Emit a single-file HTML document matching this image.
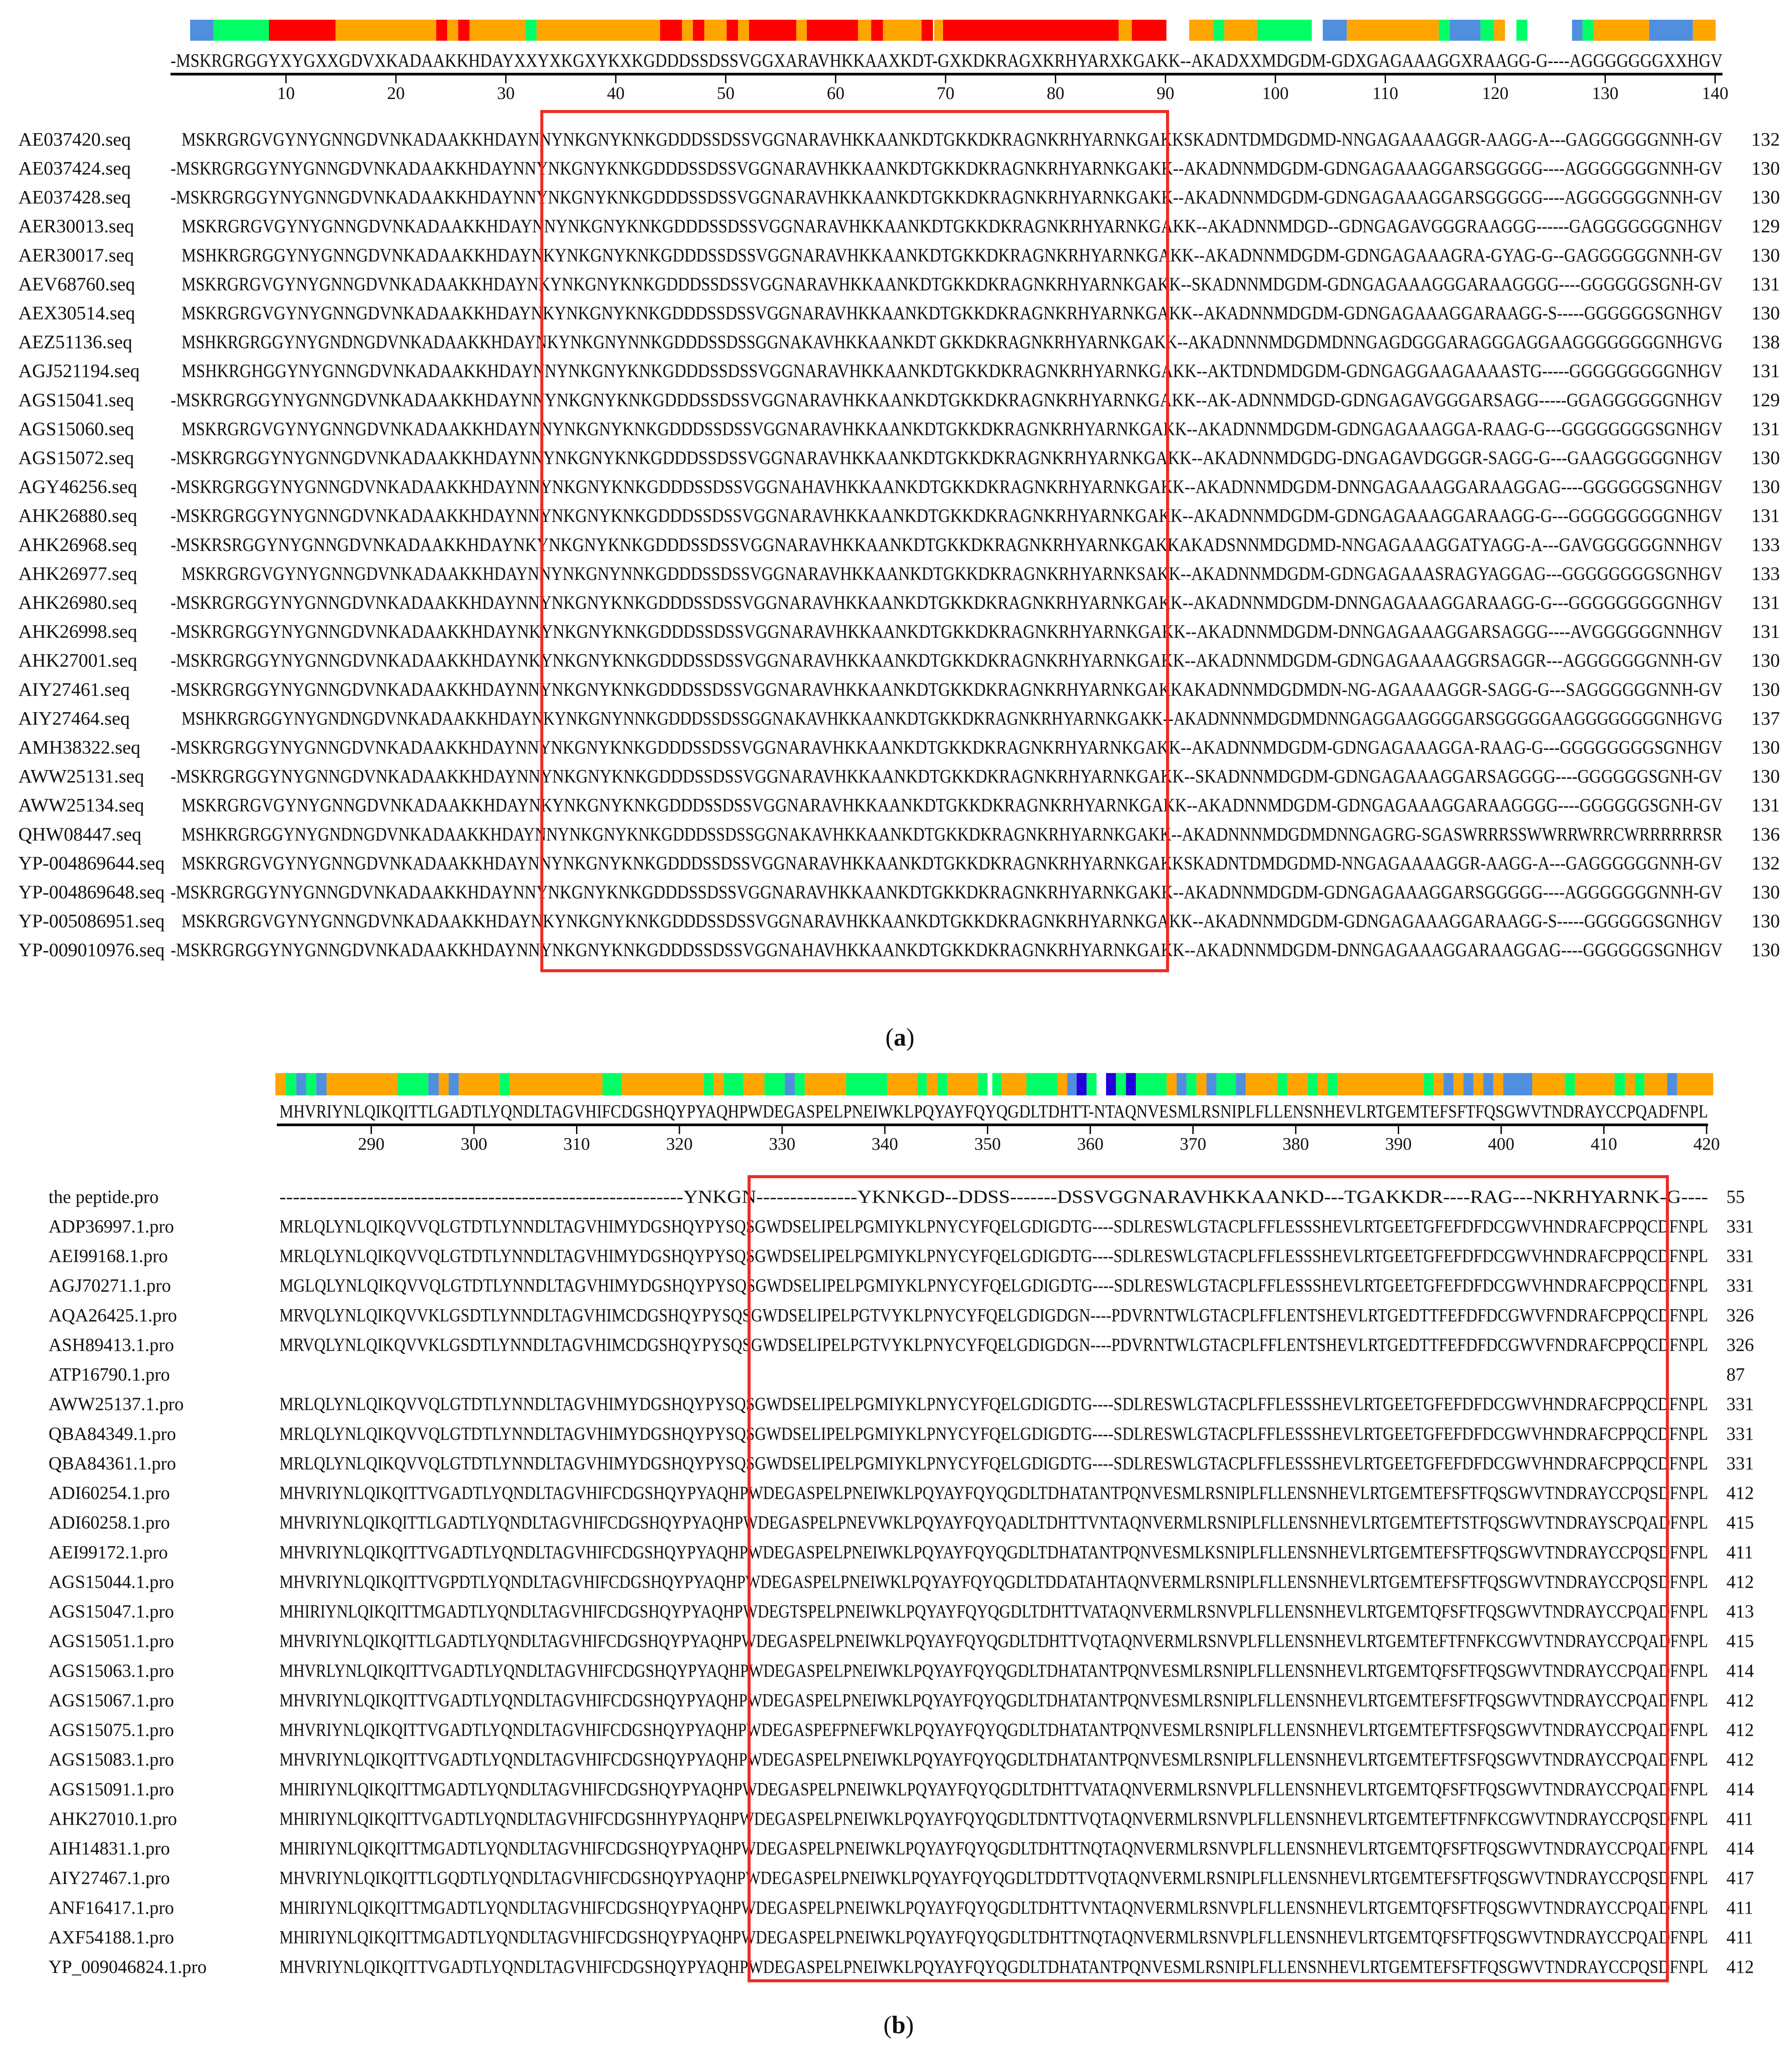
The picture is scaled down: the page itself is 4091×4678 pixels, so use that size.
<!DOCTYPE html>
<html><head><meta charset="utf-8">
<style>
html,body{margin:0;padding:0;background:#fff;}
svg{display:block;}
text{font-family:"Liberation Serif",serif;fill:#111;}
</style></head>
<body>
<svg id="fig" xmlns="http://www.w3.org/2000/svg" width="4091" height="4678" viewBox="0 0 1366 1562">
<rect x="0" y="0" width="1366" height="1562" fill="#fff"/>
<g id="barsA" transform="scale(0.33388)"></g>
<g id="barsB" transform="scale(0.33388)"></g>
<g id="panelA"></g>
<g id="panelB"></g>
<text x="686" y="797" font-size="19" text-anchor="middle">(<tspan font-weight="bold">a</tspan>)</text>
<text x="685" y="1550" font-size="19" text-anchor="middle">(<tspan font-weight="bold">b</tspan>)</text>
</svg>
<script>
const NS='http://www.w3.org/2000/svg';
const COL={b:'#4f8fde',g:'#00ff66',r:'#ff0000',o:'#ffa500',d:'#2200dd'};
// conservation segments (start,end,color) in full-res px
const segA=[[434,487,'b'],[487,614,'g'],[614,766,'r'],[766,996,'o'],[996,1021,'r'],[1021,1046,'o'],[1046,1072,'r'],[1072,1200,'o'],[1200,1225,'g'],[1225,1507,'o'],[1507,1557,'r'],[1557,1582,'o'],[1582,1608,'r'],[1608,1659,'o'],[1659,1685,'r'],[1685,1710,'o'],[1710,1818,'r'],[1818,1842,'o'],[1842,1959,'r'],[1959,1989,'o'],[1989,2016,'r'],[2016,2104,'o'],[2104,2130,'r'],[2133,2153,'o'],[2153,2554,'r'],[2554,2584,'o'],[2584,2663,'r'],[2715,2770,'o'],[2770,2795,'g'],[2795,2870,'o'],[2870,2995,'g'],[3020,3075,'b'],[3075,3285,'o'],[3285,3310,'g'],[3310,3380,'b'],[3380,3411,'g'],[3411,3436,'o'],[3462,3487,'g'],[3589,3613,'b'],[3613,3638,'g'],[3638,3765,'o'],[3765,3865,'b'],[3865,3917,'o']];
const segB4=[[8,30,'o'],[30,52,'g'],[52,73,'b'],[73,94,'g'],[94,116,'b'],[116,265,'o'],[265,330,'g'],[330,352,'b'],[352,373,'o'],[373,394,'b'],[394,480,'o'],[480,502,'g'],[502,697,'o'],[697,738,'g'],[738,910,'o'],[910,930,'g'],[930,952,'o'],[952,994,'g'],[994,1038,'o'],[1038,1081,'g'],[1081,1102,'b'],[1102,1123,'g'],[1123,1210,'o'],[1210,1297,'g'],[1297,1360,'o'],[1360,1380,'g'],[1380,1402,'o'],[1402,1423,'g'],[1423,1488,'o'],[1488,1508,'g'],[1518,1538,'g'],[1538,1568,'o']];
const segB5=[[0,42,'o'],[42,110,'g'],[110,132,'o'],[132,153,'b'],[153,175,'d'],[175,197,'g'],[218,240,'d'],[240,262,'g'],[262,284,'d'],[284,352,'g'],[352,374,'o'],[374,396,'b'],[396,418,'g'],[418,440,'o'],[440,462,'b'],[462,505,'g'],[505,527,'b'],[527,597,'o'],[597,619,'g'],[619,664,'o'],[664,686,'g'],[686,707,'o'],[707,729,'g'],[729,920,'o'],[920,942,'g'],[942,964,'o'],[964,986,'b'],[986,1008,'o'],[1008,1030,'b'],[1030,1052,'o'],[1052,1074,'b'],[1074,1096,'o'],[1096,1160,'b'],[1160,1232,'o'],[1232,1254,'g'],[1254,1342,'o'],[1342,1365,'g'],[1365,1387,'o'],[1387,1408,'g'],[1408,1458,'o'],[1458,1480,'b'],[1480,1560,'o']];

const consA="-MSKRGRGGYXYGXXGDVXKADAAKKHDAYXXYXKGXYKXKGDDDSSDSSVGGXARAVHKKAAXKDT-GXKDKRAGXKRHYARXKGAKK--AKADXXMDGDM-GDXGAGAAAGGXRAAGG-G----AGGGGGGGXXHGV";
const consB="MHVRIYNLQIKQITTLGADTLYQNDLTAGVHIFCDGSHQYPYAQHPWDEGASPELPNEIWKLPQYAYFQYQGDLTDHTT-NTAQNVESMLRSNIPLFLLENSNHEVLRTGEMTEFSFTFQSGWVTNDRAYCCPQADFNPL";
const ticksA=[10,20,30,40,50,60,70,80,90,100,110,120,130,140];
const ticksB=[290,300,310,320,330,340,350,360,370,380,390,400,410,420];

const namesA=["AE037420.seq","AE037424.seq","AE037428.seq","AER30013.seq","AER30017.seq","AEV68760.seq","AEX30514.seq","AEZ51136.seq","AGJ521194.seq","AGS15041.seq","AGS15060.seq","AGS15072.seq","AGY46256.seq","AHK26880.seq","AHK26968.seq","AHK26977.seq","AHK26980.seq","AHK26998.seq","AHK27001.seq","AIY27461.seq","AIY27464.seq","AMH38322.seq","AWW25131.seq","AWW25134.seq","QHW08447.seq","YP-004869644.seq","YP-004869648.seq","YP-005086951.seq","YP-009010976.seq"];
const lensA=[132,130,130,129,130,131,130,138,131,129,131,130,130,131,133,133,131,131,130,130,137,130,130,131,136,132,130,130,130];
const seqsA=[
"MSKRGRGVGYNYGNNGDVNKADAAKKHDAYNNYNKGNYKNKGDDDSSDSSVGGNARAVHKKAANKDTGKKDKRAGNKRHYARNKGAKKSKADNTDMDGDMD-NNGAGAAAAGGR-AAGG-A---GAGGGGGGNNH-GV",
"-MSKRGRGGYNYGNNGDVNKADAAKKHDAYNNYNKGNYKNKGDDDSSDSSVGGNARAVHKKAANKDTGKKDKRAGNKRHYARNKGAKK--AKADNNMDGDM-GDNGAGAAAGGARSGGGGG----AGGGGGGGNNH-GV",
"-MSKRGRGGYNYGNNGDVNKADAAKKHDAYNNYNKGNYKNKGDDDSSDSSVGGNARAVHKKAANKDTGKKDKRAGNKRHYARNKGAKK--AKADNNMDGDM-GDNGAGAAAGGARSGGGGG----AGGGGGGGNNH-GV",
"MSKRGRGVGYNYGNNGDVNKADAAKKHDAYNNYNKGNYKNKGDDDSSDSSVGGNARAVHKKAANKDTGKKDKRAGNKRHYARNKGAKK--AKADNNMDGD--GDNGAGAVGGGRAAGGG------GAGGGGGGGNHGV",
"MSHKRGRGGYNYGNNGDVNKADAAKKHDAYNKYNKGNYKNKGDDDSSDSSVGGNARAVHKKAANKDTGKKDKRAGNKRHYARNKGAKK--AKADNNMDGDM-GDNGAGAAAGRA-GYAG-G--GAGGGGGGNNH-GV",
"MSKRGRGVGYNYGNNGDVNKADAAKKHDAYNKYNKGNYKNKGDDDSSDSSVGGNARAVHKKAANKDTGKKDKRAGNKRHYARNKGAKK--SKADNNMDGDM-GDNGAGAAAGGGARAAGGGG----GGGGGGSGNH-GV",
"MSKRGRGVGYNYGNNGDVNKADAAKKHDAYNKYNKGNYKNKGDDDSSDSSVGGNARAVHKKAANKDTGKKDKRAGNKRHYARNKGAKK--AKADNNMDGDM-GDNGAGAAAGGARAAGG-S-----GGGGGGSGNHGV",
"MSHKRGRGGYNYGNDNGDVNKADAAKKHDAYNKYNKGNYNNKGDDDSSDSSGGNAKAVHKKAANKDT GKKDKRAGNKRHYARNKGAKK--AKADNNNMDGDMDNNGAGDGGGARAGGGAGGAAGGGGGGGGNHGVG",
"MSHKRGHGGYNYGNNGDVNKADAAKKHDAYNNYNKGNYKNKGDDDSSDSSVGGNARAVHKKAANKDTGKKDKRAGNKRHYARNKGAKK--AKTDNDMDGDM-GDNGAGGAAGAAAASTG-----GGGGGGGGGNHGV",
"-MSKRGRGGYNYGNNGDVNKADAAKKHDAYNNYNKGNYKNKGDDDSSDSSVGGNARAVHKKAANKDTGKKDKRAGNKRHYARNKGAKK--AK-ADNNMDGD-GDNGAGAVGGGARSAGG-----GGAGGGGGGNHGV",
"MSKRGRGVGYNYGNNGDVNKADAAKKHDAYNNYNKGNYKNKGDDDSSDSSVGGNARAVHKKAANKDTGKKDKRAGNKRHYARNKGAKK--AKADNNMDGDM-GDNGAGAAAGGA-RAAG-G---GGGGGGGGSGNHGV",
"-MSKRGRGGYNYGNNGDVNKADAAKKHDAYNNYNKGNYKNKGDDDSSDSSVGGNARAVHKKAANKDTGKKDKRAGNKRHYARNKGAKK--AKADNNMDGDG-DNGAGAVDGGGR-SAGG-G---GAAGGGGGGNHGV",
"-MSKRGRGGYNYGNNGDVNKADAAKKHDAYNNYNKGNYKNKGDDDSSDSSVGGNAHAVHKKAANKDTGKKDKRAGNKRHYARNKGAKK--AKADNNMDGDM-DNNGAGAAAGGARAAGGAG----GGGGGGSGNHGV",
"-MSKRGRGGYNYGNNGDVNKADAAKKHDAYNNYNKGNYKNKGDDDSSDSSVGGNARAVHKKAANKDTGKKDKRAGNKRHYARNKGAKK--AKADNNMDGDM-GDNGAGAAAGGARAAGG-G---GGGGGGGGGNHGV",
"-MSKRSRGGYNYGNNGDVNKADAAKKHDAYNKYNKGNYKNKGDDDSSDSSVGGNARAVHKKAANKDTGKKDKRAGNKRHYARNKGAKKAKADSNNMDGDMD-NNGAGAAAGGATYAGG-A---GAVGGGGGGNNHGV",
"MSKRGRGVGYNYGNNGDVNKADAAKKHDAYNNYNKGNYNNKGDDDSSDSSVGGNARAVHKKAANKDTGKKDKRAGNKRHYARNKSAKK--AKADNNMDGDM-GDNGAGAAASRAGYAGGAG---GGGGGGGGSGNHGV",
"-MSKRGRGGYNYGNNGDVNKADAAKKHDAYNNYNKGNYKNKGDDDSSDSSVGGNARAVHKKAANKDTGKKDKRAGNKRHYARNKGAKK--AKADNNMDGDM-DNNGAGAAAGGARAAGG-G---GGGGGGGGGNHGV",
"-MSKRGRGGYNYGNNGDVNKADAAKKHDAYNKYNKGNYKNKGDDDSSDSSVGGNARAVHKKAANKDTGKKDKRAGNKRHYARNKGAKK--AKADNNMDGDM-DNNGAGAAAGGARSAGGG----AVGGGGGGNNHGV",
"-MSKRGRGGYNYGNNGDVNKADAAKKHDAYNKYNKGNYKNKGDDDSSDSSVGGNARAVHKKAANKDTGKKDKRAGNKRHYARNKGAKK--AKADNNMDGDM-GDNGAGAAAAGGRSAGGR---AGGGGGGGNNH-GV",
"-MSKRGRGGYNYGNNGDVNKADAAKKHDAYNNYNKGNYKNKGDDDSSDSSVGGNARAVHKKAANKDTGKKDKRAGNKRHYARNKGAKKAKADNNMDGDMDN-NG-AGAAAAGGR-SAGG-G---SAGGGGGGNNH-GV",
"MSHKRGRGGYNYGNDNGDVNKADAAKKHDAYNKYNKGNYNNKGDDDSSDSSGGNAKAVHKKAANKDTGKKDKRAGNKRHYARNKGAKK--AKADNNNMDGDMDNNGAGGAAGGGGARSGGGGGAAGGGGGGGGNHGVG",
"-MSKRGRGGYNYGNNGDVNKADAAKKHDAYNNYNKGNYKNKGDDDSSDSSVGGNARAVHKKAANKDTGKKDKRAGNKRHYARNKGAKK--AKADNNMDGDM-GDNGAGAAAGGA-RAAG-G---GGGGGGGGSGNHGV",
"-MSKRGRGGYNYGNNGDVNKADAAKKHDAYNNYNKGNYKNKGDDDSSDSSVGGNARAVHKKAANKDTGKKDKRAGNKRHYARNKGAKK--SKADNNMDGDM-GDNGAGAAAGGARSAGGGG----GGGGGGSGNH-GV",
"MSKRGRGVGYNYGNNGDVNKADAAKKHDAYNKYNKGNYKNKGDDDSSDSSVGGNARAVHKKAANKDTGKKDKRAGNKRHYARNKGAKK--AKADNNMDGDM-GDNGAGAAAGGARAAGGGG----GGGGGGSGNH-GV",
"MSHKRGRGGYNYGNDNGDVNKADAAKKHDAYNNYNKGNYKNKGDDDSSDSSGGNAKAVHKKAANKDTGKKDKRAGNKRHYARNKGAKK--AKADNNNMDGDMDNNGAGRG-SGASWRRRSSWWRRWRRCWRRRRRRSR",
"MSKRGRGVGYNYGNNGDVNKADAAKKHDAYNNYNKGNYKNKGDDDSSDSSVGGNARAVHKKAANKDTGKKDKRAGNKRHYARNKGAKKSKADNTDMDGDMD-NNGAGAAAAGGR-AAGG-A---GAGGGGGGNNH-GV",
"-MSKRGRGGYNYGNNGDVNKADAAKKHDAYNNYNKGNYKNKGDDDSSDSSVGGNARAVHKKAANKDTGKKDKRAGNKRHYARNKGAKK--AKADNNMDGDM-GDNGAGAAAGGARSGGGGG----AGGGGGGGNNH-GV",
"MSKRGRGVGYNYGNNGDVNKADAAKKHDAYNKYNKGNYKNKGDDDSSDSSVGGNARAVHKKAANKDTGKKDKRAGNKRHYARNKGAKK--AKADNNMDGDM-GDNGAGAAAGGARAAGG-S-----GGGGGGSGNHGV",
"-MSKRGRGGYNYGNNGDVNKADAAKKHDAYNNYNKGNYKNKGDDDSSDSSVGGNAHAVHKKAANKDTGKKDKRAGNKRHYARNKGAKK--AKADNNMDGDM-DNNGAGAAAGGARAAGGAG----GGGGGGSGNHGV"];

const ADP="MRLQLYNLQIKQVVQLGTDTLYNNDLTAGVHIMYDGSHQYPYSQSGWDSELIPELPGMIYKLPNYCYFQELGDIGDTG----SDLRESWLGTACPLFFLESSSHEVLRTGEETGFEFDFDCGWVHNDRAFCPPQCDFNPL";
const AQA="MRVQLYNLQIKQVVKLGSDTLYNNDLTAGVHIMCDGSHQYPYSQSGWDSELIPELPGTVYKLPNYCYFQELGDIGDGN----PDVRNTWLGTACPLFFLENTSHEVLRTGEDTTFEFDFDCGWVFNDRAFCPPQCDFNPL";
const namesB=["the peptide.pro","ADP36997.1.pro","AEI99168.1.pro","AGJ70271.1.pro","AQA26425.1.pro","ASH89413.1.pro","ATP16790.1.pro","AWW25137.1.pro","QBA84349.1.pro","QBA84361.1.pro","ADI60254.1.pro","ADI60258.1.pro","AEI99172.1.pro","AGS15044.1.pro","AGS15047.1.pro","AGS15051.1.pro","AGS15063.1.pro","AGS15067.1.pro","AGS15075.1.pro","AGS15083.1.pro","AGS15091.1.pro","AHK27010.1.pro","AIH14831.1.pro","AIY27467.1.pro","ANF16417.1.pro","AXF54188.1.pro","YP_009046824.1.pro"];
const lensB=[55,331,331,331,326,326,87,331,331,331,412,415,411,412,413,415,414,412,412,412,414,411,414,417,411,411,412];
const seqsB=[
"------------------------------------------------------------YNKGN---------------YKNKGD--DDSS-------DSSVGGNARAVHKKAANKD---TGAKKDR----RAG---NKRHYARNK-G----",
ADP,ADP,
"MGLQLYNLQIKQVVQLGTDTLYNNDLTAGVHIMYDGSHQYPYSQSGWDSELIPELPGMIYKLPNYCYFQELGDIGDTG----SDLRESWLGTACPLFFLESSSHEVLRTGEETGFEFDFDCGWVHNDRAFCPPQCDFNPL",
AQA,AQA,"",ADP,ADP,ADP,
"MHVRIYNLQIKQITTVGADTLYQNDLTAGVHIFCDGSHQYPYAQHPWDEGASPELPNEIWKLPQYAYFQYQGDLTDHATANTPQNVESMLRSNIPLFLLENSNHEVLRTGEMTEFSFTFQSGWVTNDRAYCCPQSDFNPL",
"MHVRIYNLQIKQITTLGADTLYQNDLTAGVHIFCDGSHQYPYAQHPWDEGASPELPNEVWKLPQYAYFQYQADLTDHTTVNTAQNVERMLRSNIPLFLLENSNHEVLRTGEMTEFTSTFQSGWVTNDRAYSCPQADFNPL",
"MHVRIYNLQIKQITTVGADTLYQNDLTAGVHIFCDGSHQYPYAQHPWDEGASPELPNEIWKLPQYAYFQYQGDLTDHATANTPQNVESMLKSNIPLFLLENSNHEVLRTGEMTEFSFTFQSGWVTNDRAYCCPQSDFNPL",
"MHVRIYNLQIKQITTVGPDTLYQNDLTAGVHIFCDGSHQYPYAQHPWDEGASPELPNEIWKLPQYAYFQYQGDLTDDATAHTAQNVERMLRSNIPLFLLENSNHEVLRTGEMTEFSFTFQSGWVTNDRAYCCPQSDFNPL",
"MHIRIYNLQIKQITTMGADTLYQNDLTAGVHIFCDGSHQYPYAQHPWDEGTSPELPNEIWKLPQYAYFQYQGDLTDHTTVATAQNVERMLRSNVPLFLLENSNHEVLRTGEMTQFSFTFQSGWVTNDRAYCCPQADFNPL",
"MHVRIYNLQIKQITTLGADTLYQNDLTAGVHIFCDGSHQYPYAQHPWDEGASPELPNEIWKLPQYAYFQYQGDLTDHTTVQTAQNVERMLRSNVPLFLLENSNHEVLRTGEMTEFTFNFKCGWVTNDRAYCCPQADFNPL",
"MHVRLYNLQIKQITTVGADTLYQNDLTAGVHIFCDGSHQYPYAQHPWDEGASPELPNEIWKLPQYAYFQYQGDLTDHATANTPQNVESMLRSNIPLFLLENSNHEVLRTGEMTQFSFTFQSGWVTNDRAYCCPQADFNPL",
"MHVRIYNLQIKQITTVGADTLYQNDLTAGVHIFCDGSHQYPYAQHPWDEGASPELPNEIWKLPQYAYFQYQGDLTDHATANTPQNVESMLRSNIPLFLLENSNHEVLRTGEMTEFSFTFQSGWVTNDRAYCCPQADFNPL",
"MHVRIYNLQIKQITTVGADTLYQNDLTAGVHIFCDGSHQYPYAQHPWDEGASPEFPNEFWKLPQYAYFQYQGDLTDHATANTPQNVESMLRSNIPLFLLENSNHEVLRTGEMTEFTFSFQSGWVTNDRAYCCPQADFNPL",
"MHVRIYNLQIKQITTVGADTLYQNDLTAGVHIFCDGSHQYPYAQHPWDEGASPELPNEIWKLPQYAYFQYQGDLTDHATANTPQNVESMLRSNIPLFLLENSNHEVLRTGEMTEFTFSFQSGWVTNDRAYCCPQADFNPL",
"MHIRIYNLQIKQITTMGADTLYQNDLTAGVHIFCDGSHQYPYAQHPWDEGASPELPNEIWKLPQYAYFQYQGDLTDHTTVATAQNVERMLRSNVPLFLLENSNHEVLRTGEMTQFSFTFQSGWVTNDRAYCCPQADFNPL",
"MHIRIYNLQIKQITTVGADTLYQNDLTAGVHIFCDGSHHYPYAQHPWDEGASPELPNEIWKLPQYAYFQYQGDLTDNTTVQTAQNVERMLRSNVPLFLLENSNHEVLRTGEMTEFTFNFKCGWVTNDRAYCCPQSDFNPL",
"MHIRIYNLQIKQITTMGADTLYQNDLTAGVHIFCDGSHQYPYAQHPWDEGASPELPNEIWKLPQYAYFQYQGDLTDHTTNQTAQNVERMLRSNVPLFLLENSNHEVLRTGEMTQFSFTFQSGWVTNDRAYCCPQADFNPL",
"MHVRIYNLQIKQITTLGQDTLYQNDLTAGVHIFCDGSHQYPYAQHPWDEGASPELPNEIWKLPQYAYFQYQGDLTDDTTVQTAQNVERMLRSNIPLFLLENSNHEVLRTGEMTEFSFTFQSGWVTNDRAYCCPQSDFNPL",
"MHIRIYNLQIKQITTMGADTLYQNDLTAGVHIFCDGSHQYPYAQHPWDEGASPELPNEIWKLPQYAYFQYQGDLTDHTTVNTAQNVERMLRSNVPLFLLENSNHEVLRTGEMTQFSFTFQSGWVTNDRAYCCPQADFNPL",
"MHIRIYNLQIKQITTMGADTLYQNDLTAGVHIFCDGSHQYPYAQHPWDEGASPELPNEIWKLPQYAYFQYQGDLTDHTTNQTAQNVERMLRSNVPLFLLENSNHEVLRTGEMTQFSFTFQSGWVTNDRAYCCPQADFNPL",
"MHVRIYNLQIKQITTVGADTLYQNDLTAGVHIFCDGSHQYPYAQHPWDEGASPELPNEIWKLPQYAYFQYQGDLTDHATANTPQNVESMLRSNIPLFLLENSNHEVLRTGEMTEFSFTFQSGWVTNDRAYCCPQSDFNPL"];

function el(tag,parent){const e=document.createElementNS(NS,tag);parent.appendChild(e);return e;}

const gA=document.getElementById('barsA');
segA.forEach(s=>{
  const r=el('rect',gA);
  
  
  r.setAttribute('x',s[0]);r.setAttribute('y',45);r.setAttribute('width',s[1]-s[0]);r.setAttribute('height',48);r.setAttribute('fill',COL[s[2]]);
});
const gB=document.getElementById('barsB');
function addB(list,off,fac){
  list.forEach(s=>{
    const r=el('rect',gB);
    
    
    const x0=off+s[0]*fac,x1=off+s[1]*fac;
    r.setAttribute('x',x0);r.setAttribute('y',2450);r.setAttribute('width',x1-x0);r.setAttribute('height',51);r.setAttribute('fill',COL[s[2]]);
  });
}
addB(segB4,620,1.084);
addB(segB5,2300,1.033);

function txt(parent,x,y,s,size,opts){
  const t=el('text',parent);
  t.setAttribute('x',x);t.setAttribute('y',y);t.setAttribute('font-size',size);
  if(opts&&opts.len){t.setAttribute('textLength',opts.len);t.setAttribute('lengthAdjust','spacingAndGlyphs');}
  if(opts&&opts.anchor)t.setAttribute('text-anchor',opts.anchor);
  t.setAttribute('xml:space','preserve');
  t.textContent=s;
  return t;
}

function panel(g,cfg){
  const c=txt(g,cfg.consX0,cfg.consY,cfg.cons,cfg.fs,{len:cfg.consX1-cfg.consX0});
  
  
  const ax=el('line',g);
  
  
  ax.setAttribute('x1',cfg.axX0);ax.setAttribute('x2',cfg.axX1);ax.setAttribute('y1',cfg.axY);ax.setAttribute('y2',cfg.axY);ax.setAttribute('stroke','#000');ax.setAttribute('stroke-width',2);
  const xs=v=>cfg.t0x+(v-cfg.t0)*cfg.step;
  cfg.ticks.forEach(v=>{
    const tk=el('line',g);
    
    
    tk.setAttribute('x1',xs(v));tk.setAttribute('x2',xs(v));tk.setAttribute('y1',cfg.axY);tk.setAttribute('y2',cfg.axY+7);tk.setAttribute('stroke','#000');tk.setAttribute('stroke-width',1);
    const tl=txt(g,xs(v),cfg.axY+19,String(v),13.5,{anchor:'middle'});
    
    
  });
  cfg.names.forEach((n,i)=>{
    const y=cfg.row0+i*cfg.rowStep+5;
    const nt=txt(g,cfg.nameX,y,n,cfg.nfs);
    
    
    const s=cfg.seqs[i];
    if(s.length){
      const x0=cfg.seqStart(s);
      const st=txt(g,x0,y,s,cfg.fs,{len:cfg.seqEnd-x0});
      
      
    }
    const lt=txt(g,cfg.lenX,y,String(cfg.lens[i]),cfg.nfs);
    
    
  });
  const box=el('rect',g);
  
  
  box.setAttribute('x',cfg.box[0]);box.setAttribute('y',cfg.box[1]);box.setAttribute('width',cfg.box[2]-cfg.box[0]);box.setAttribute('height',cfg.box[3]-cfg.box[1]);
  box.setAttribute('fill','none');box.setAttribute('stroke','#ee2a22');box.setAttribute('stroke-width',2.3);
}

panel(document.getElementById('panelA'),{
  cons:consA,consX0:130,consX1:1313,consY:51,fs:14.5,nfs:14.5,
  axX0:130,axX1:1313,axY:56.5,ticks:ticksA,t0:10,t0x:218,step:8.38,
  names:namesA,seqs:seqsA,lens:lensA,nameX:14,lenX:1335,row0:106,rowStep:22.07,
  seqStart:s=>s[0]==='-'?130:138.4,seqEnd:1313,
  box:[413,85,890,740]
});
panel(document.getElementById('panelB'),{
  cons:consB,consX0:213,consX1:1302,consY:852,fs:14,nfs:14,
  axX0:211,axX1:1302,axY:857.5,ticks:ticksB,t0:290,t0x:283,step:7.83,
  names:namesB,seqs:seqsB,lens:lensB,nameX:37,lenX:1316,row0:912,rowStep:22.58,
  seqStart:s=>213,seqEnd:1302,
  box:[571,897,1271,1510]
});
</script>
</body></html>
